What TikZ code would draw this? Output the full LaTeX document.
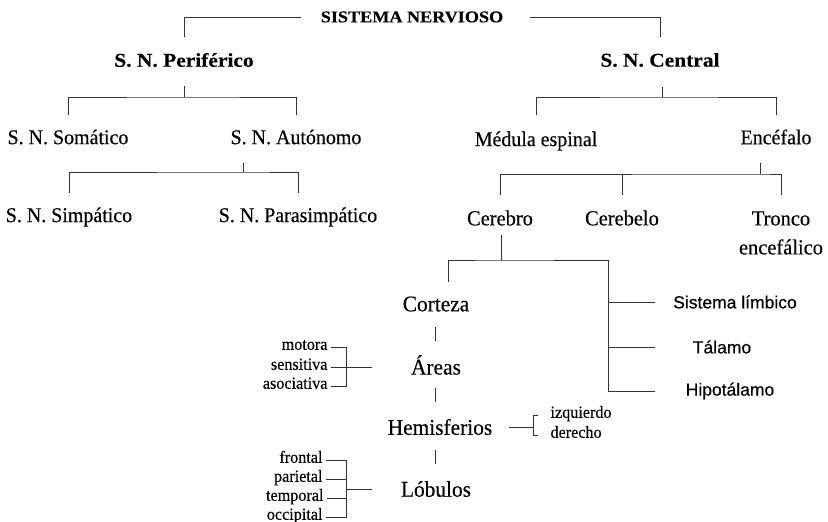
\documentclass[tikz,border=0pt]{standalone}
\usepackage{fontspec}
\setmainfont[FakeStretch=0.95, FakeBold=0.3, BoldFeatures={FakeStretch=1.1}]{Liberation Serif}
\newfontfamily\sansfam[FakeBold=0.3]{Liberation Sans}
\usetikzlibrary{positioning}

\begin{document}
\begin{tikzpicture}[x=1pt, y=-1pt,
	ln/.style={line width=.7pt, black!80},
	head/.style={font=\fontsize{19.5}{24}\selectfont\bfseries},
	part/.style={font=\fontsize{21}{24}\selectfont},
	brain/.style={font=\fontsize{21.5}{29}\selectfont, align=center},
	mid/.style={font=\fontsize{22.5}{26}\selectfont},
	leaf/.style={font=\fontsize{17}{18}\selectfont, text height=1.5ex, text depth=.3ex},
	box/.style={font=\sansfam\fontsize{17.5}{20}\selectfont}]
	\useasboundingbox (0,0) rectangle (828,522);
	% nodes
	\node[head, font=\fontsize{16.5}{20}\selectfont\bfseries] (sn) at (412,17) {SISTEMA NERVIOSO};
	\node[head] (per) at (184,60) {S. N. Periférico};
	\node[head] (cen) at (660,60) {S. N. Central};
	\node[part] (som) at (68,137) {S. N. Somático};
	\node[part] (aut) at (296,137) {S. N. Autónomo};
	\node[part] (sim) at (69,217) {S. N. Simpático};
	\node[part] (par) at (298,217) {S. N. Parasimpático};
	\node[part] (med) at (536,141) {Médula espinal};
	\node[part] (enc) at (776,137) {Encéfalo};
	\node[brain] (cbr) at (500,218) {Cerebro};
	\node[brain] (cbl) at (622,218) {Cerebelo};
	\node[brain] (tro) at (781,233) {Tronco\\encefálico};
	\node[mid] (cort) at (436,304) {Corteza};
	\node[mid] (areas) at (436,365) {Áreas};
	\node[mid] (hemi) at (440,427) {Hemisferios};
	\node[mid] (lob) at (436,489) {Lóbulos};
	\node[box] (lim) at (735,302) {Sistema límbico};
	\node[box] (tal) at (722,347) {Tálamo};
	\node[box] (hip) at (730,391) {Hipotálamo};
	\node[leaf, anchor=east] (mot) at (331,347) {motora};
	\node[leaf, anchor=east] (sen) at (331,367) {sensitiva};
	\node[leaf, anchor=east] (aso) at (331,386) {asociativa};
	\node[leaf, anchor=east] (fron) at (326,460) {frontal};
	\node[leaf, anchor=east] (pari) at (326,479) {parietal};
	\node[leaf, anchor=east] (temp) at (327,498) {temporal};
	\node[leaf, anchor=east] (occi) at (326,517) {occipital};
	\node[leaf, anchor=west] (izq) at (547,415) {izquierdo};
	\node[leaf, anchor=west] (der) at (547,435) {derecho};
	% top
	\draw[ln] ([xshift=-16pt]sn.west) -| ([yshift=23pt]per.center);
	\draw[ln] ([xshift=23pt]sn.east) -| ([yshift=23pt]cen.center);
	% periferico
	\draw[ln] (per.center) ++(0,26) -- ++(0,11) coordinate (pj);
	\draw[ln] ([yshift=22pt]som.center) |- (pj) -| ([yshift=22pt]aut.center);
	\draw[ln] (aut.center) ++(-53,26) -- ++(0,9) coordinate (aj);
	\draw[ln] ([yshift=24pt]sim.center) |- (aj) -| ([yshift=24pt]par.center);
	% central
	\draw[ln] (cen.center) ++(2,27) -- ++(0,10) coordinate (cj);
	\draw[ln] ([yshift=26pt]med.center) |- (cj) -| ([yshift=22pt]enc.center);
	\draw[ln] (enc.center) ++(-16,26) -- ++(0,11) coordinate (ej);
	\draw[ln] ([yshift=23pt]cbr.center) |- (ej) -| ([yshift=38pt]tro.center);
	\draw[ln] ([yshift=23pt]cbl.center) -- (cbl |- ej);
	% cerebro
	\draw[ln] (cbr.center) ++(1,17) -- ++(0,25) coordinate (rj);
	\draw[ln] ([xshift=12pt, yshift=22pt]cort.center) |- (rj) -- ++(107,0) coordinate (rk) -- (rk |- hip);
	\foreach \n in {lim,tal,hip}
		\draw[ln] (rk |- \n) -- ++(47,0);
	\foreach \a in {cort,areas,hemi}
		\draw[ln] (\a.center -| areas.center) ++(-1,23) -- ++(0,14);
	% areas
	\draw[ln] (mot.east) -- ++(15,0) coordinate (ab) -- (ab |- aso) -- (aso.east);
	\draw[ln] (sen.east) -- ++(41,0);
	% lobulos
	\draw[ln] (fron.east) -- ++(20,0) coordinate (lb) -- (lb |- occi) -- (occi.east);
	\draw[ln] (pari.east) -- (lb |- pari);
	\draw[ln] (temp.east) -- (lb |- temp);
	\draw[ln] (lb |- lob) -- ++(26,0);
	% hemisferios
	\draw[ln] (hemi.east) ++(13,0) -- ++(25,0) coordinate (hb);
	\draw[ln] (hb |- izq) ++(4,0) -- (hb |- izq) -- (hb |- der) -- ++(4,0);
\end{tikzpicture}
\end{document}
